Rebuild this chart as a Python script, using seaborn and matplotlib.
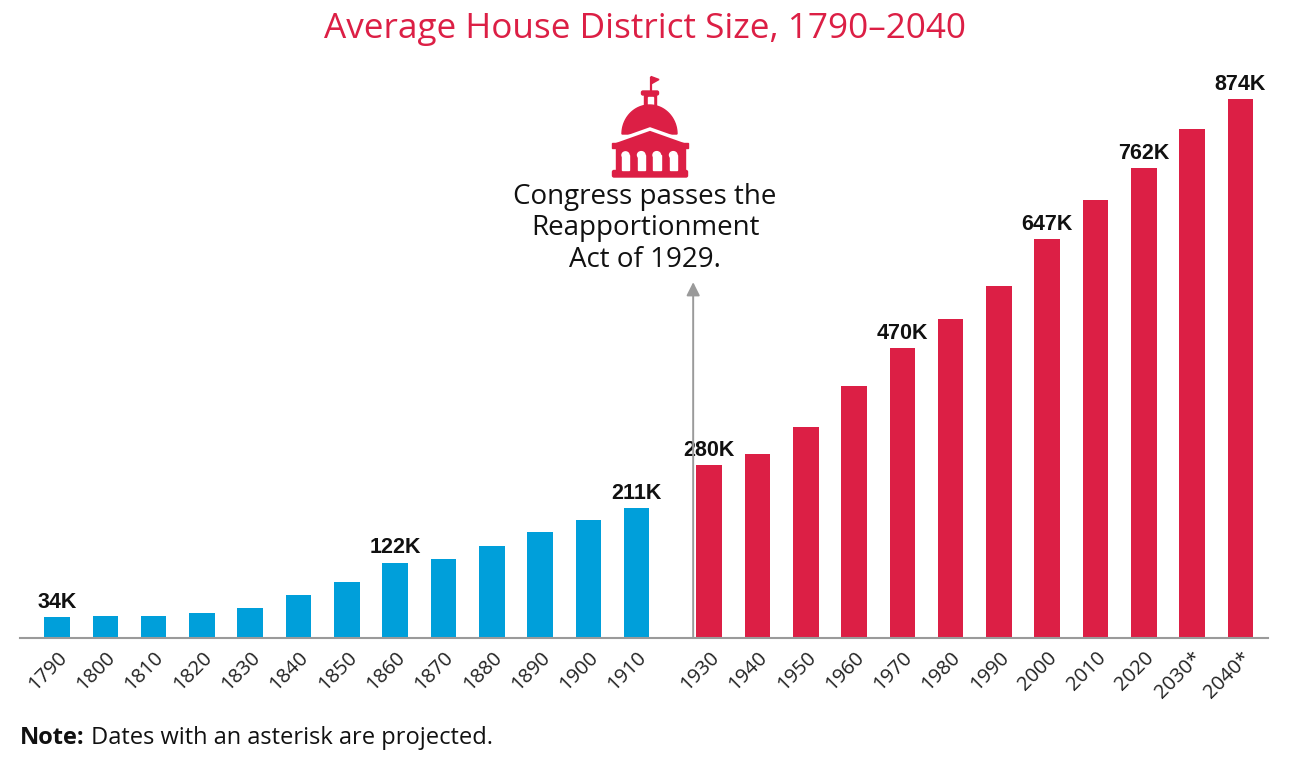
import numpy as np
import pandas as pd
import seaborn as sns
import matplotlib.pyplot as plt
from matplotlib import patches

# --- data -----------------------------------------------------------------
years = ["1790", "1800", "1810", "1820", "1830", "1840", "1850", "1860", "1870",
         "1880", "1890", "1900", "1910",
         "1930", "1940", "1950", "1960", "1970", "1980", "1990", "2000", "2010",
         "2020", "2030*", "2040*"]
sizes_k = [34, 35, 36, 41, 48, 70, 91, 122, 128, 149, 172, 191, 211,
           280, 298, 342, 409, 470, 517, 571, 647, 710, 762, 825, 874]
eras = ["before"] * 13 + ["after"] * 12
value_labels = {"1790": "34K", "1860": "122K", "1910": "211K", "1930": "280K",
                "1970": "470K", "2000": "647K", "2020": "762K", "2040*": "874K"}

BLUE = "#009FDA"
RED = "#DC1F45"
GREY = "#9a9a9a"
W, H = 1298, 776

sns.set_style("white")
plt.rcParams["font.family"] = ["Open Sans", "DejaVu Sans"]

# the 1920 slot is squeezed to half a slot
positions = [i if i < 13 else i + 0.5 for i in range(len(years))]
df = pd.DataFrame({"pos": positions, "size": sizes_k, "era": eras})

fig = plt.figure(figsize=(W / 100, H / 100), dpi=100)
ax = fig.add_axes([20 / W, 1 - 638 / H, 1248 / W, 568 / H])

sns.barplot(data=df, x="pos", y="size", hue="era",
            palette={"before": BLUE, "after": RED}, native_scale=True,
            width=0.53, dodge=False, legend=False, saturation=1,
            linewidth=0, ax=ax)

ax.set_xlim(-0.766, 25.07)
ax.set_ylim(0, 921)
ax.set_xticks(positions)
ax.set_xticklabels(years, rotation=45, ha="right", rotation_mode="anchor",
                   fontsize=14.5, color="#222222")
ax.tick_params(axis="x", length=0, pad=7)
ax.set_yticks([])
ax.set_xlabel("")
ax.set_ylabel("")
for side in ("left", "top", "right"):
    ax.spines[side].set_visible(False)
ax.spines["bottom"].set_color(GREY)
ax.spines["bottom"].set_linewidth(1.5)

for pos, year, size in zip(positions, years, sizes_k):
    if year in value_labels:
        ax.text(pos, size + 7, value_labels[year], ha="center", va="bottom",
                fontsize=15.5, fontweight="bold", family="Liberation Sans",
                color="#111111")

# arrow marking the 1929 act
arrow_x = positions[13] - 0.33
ax.annotate("", xy=(arrow_x, 577), xytext=(arrow_x, 0),
            arrowprops=dict(arrowstyle="-|>", color=GREY, lw=1.4,
                            mutation_scale=20, shrinkA=0, shrinkB=0))

fig.text(645 / W, 1 - 183 / H, "Congress passes the\nReapportionment\nAct of 1929.",
         ha="center", va="top", fontsize=20, linespacing=1.16, color="#111111")

fig.text(645 / W, 1 - 29 / H, "Average House District Size, 1790\u20132040",
         ha="center", va="center", fontsize=25.3, color=RED)

note = fig.text(20 / W, 1 - 738 / H, "Note:", ha="left", va="center",
                fontsize=17, fontweight="bold", color="#111111")
ax.annotate(" Dates with an asterisk are projected.", xy=(1, 0.5),
            xycoords=note, ha="left", va="center", fontsize=17,
            color="#111111", annotation_clip=False)

# capitol icon, drawn in pixel coordinates
ic = fig.add_axes([600 / W, 1 - 180 / H, 100 / W, 106 / H])
ic.set_xlim(600, 700)
ic.set_ylim(180, 74)
ic.axis("off")
ic.plot([651, 651], [77, 92], color=RED, lw=1.6, solid_capstyle="butt")
ic.add_patch(patches.Polygon([(651, 76.5), (659, 79.5), (651, 84)], color=RED))
ic.add_patch(patches.FancyBboxPatch((641.5, 91), 17, 4, boxstyle="round,pad=0,rounding_size=1.5", color=RED))
ic.add_patch(patches.Rectangle((644, 95), 12, 12, color=RED))
ic.add_patch(patches.Rectangle((647.5, 97), 5, 9, color="white"))
t = np.linspace(0, np.pi, 60)
dome = np.column_stack([649.5 + 27.5 * np.cos(t), 134 - 29 * np.sin(t)])
ic.add_patch(patches.Polygon(dome, color=RED))
ic.add_patch(patches.Polygon([(612, 142.5), (650, 129), (688, 142.5), (688, 147), (612, 147)],
                             facecolor=RED, edgecolor="white", lw=2.5, joinstyle="miter"))
ic.add_patch(patches.Rectangle((612, 142.5), 76, 5, color=RED))
ic.add_patch(patches.Rectangle((616, 147), 69, 24, color=RED))
ic.add_patch(patches.FancyBboxPatch((612.5, 170.5), 75, 6.5, boxstyle="round,pad=0,rounding_size=1.5", color=RED))
for x0, x1 in [(622, 629), (637.5, 645), (653, 660.5), (669.5, 677)]:
    w = x1 - x0
    ic.add_patch(patches.Rectangle((x0, 155), w, 15.5, color="white"))
    ic.add_patch(patches.Ellipse((x0 + w / 2, 155), w, w * 0.9, color="white"))

fig.savefig("out.png", dpi=100)
